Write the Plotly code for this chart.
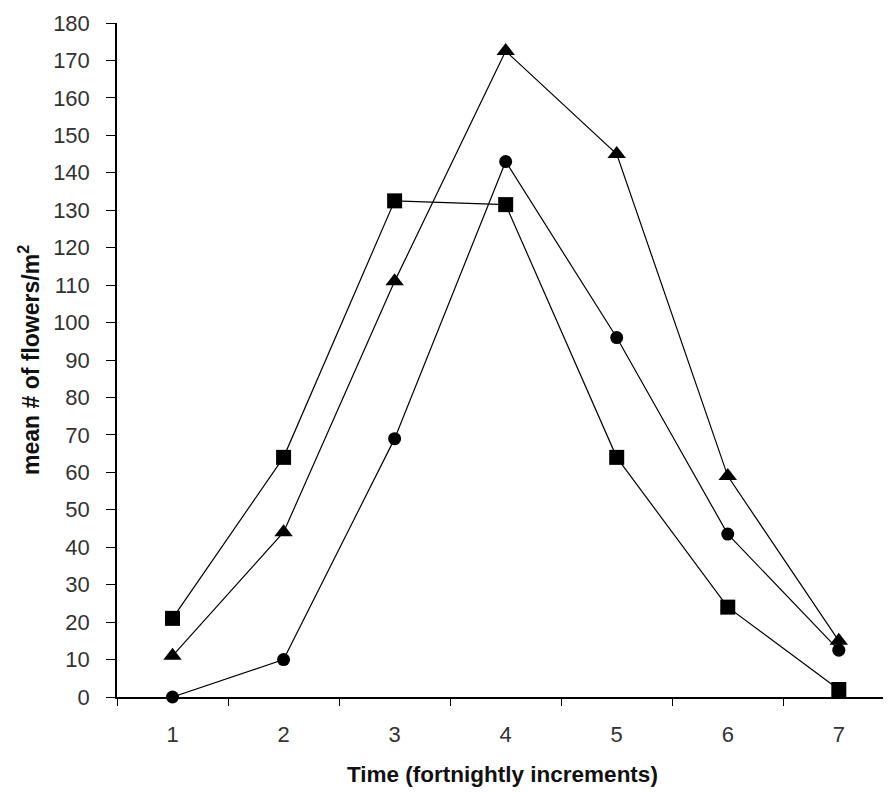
import plotly.graph_objects as go

time_labels = ["1", "2", "3", "4", "5", "6", "7"]
squares = [21, 64, 132.5, 131.5, 64, 24, 2]
triangles = [11, 44, 111, 172.5, 145, 59, 15]
circles = [0, 10, 69, 143, 96, 43.5, 12.5]
y_ticks = list(range(0, 181, 10))

fig = go.Figure()
series = [
    ("squares", squares, "square", 15),
    ("triangles", triangles, "triangle-up", 16),
    ("circles", circles, "circle", 13),
]
for name, vals, sym, sz in series:
    fig.add_trace(go.Scatter(
        x=time_labels, y=vals, mode="lines+markers", name=name,
        line=dict(color="black", width=1.2),
        marker=dict(symbol=sym, size=sz, color="black", line=dict(width=0)),
        cliponaxis=False, showlegend=False,
    ))

font_fam = "Liberation Sans, Arial, sans-serif"
# page body has an 8px margin, so the figure is sized/offset to compensate
fig.update_layout(
    width=883, height=784,
    margin=dict(l=109, r=0, t=15, b=95),
    paper_bgcolor="white", plot_bgcolor="white",
    font=dict(family=font_fam, size=22, color="#333"),
    xaxis=dict(
        type="category", range=[-0.5, 6.47], tickson="boundaries",
        showline=True, linecolor="black", linewidth=1.5,
        ticks="outside", ticklen=7, tickwidth=1.2, tickcolor="black",
        showgrid=False, zeroline=False, ticklabelstandoff=17,
        tickfont=dict(size=22, color="#333"), automargin=False,
    ),
    yaxis=dict(
        range=[0, 180], tickvals=y_ticks,
        showline=True, linecolor="black", linewidth=1.5,
        ticks="outside", ticklen=9, tickwidth=1.2, tickcolor="black",
        showgrid=False, zeroline=False, ticklabelstandoff=12,
        tickfont=dict(size=22, color="#333"), automargin=False,
    ),
    annotations=[
        dict(text="<b>Time (fortnightly increments)</b>", xref="paper", yref="paper",
             x=0.4987, y=-0.1157, xanchor="center", yanchor="middle", showarrow=False,
             font=dict(family=font_fam, size=22.5, color="#111")),
        dict(text="<b>mean # of flowers/m<sup>2</sup></b>", xref="paper", yref="paper",
             x=-0.1137, y=0.5, xanchor="center", yanchor="middle", showarrow=False,
             textangle=-90, font=dict(family=font_fam, size=23, color="#111")),
    ],
)
fig.write_html("out.html")
